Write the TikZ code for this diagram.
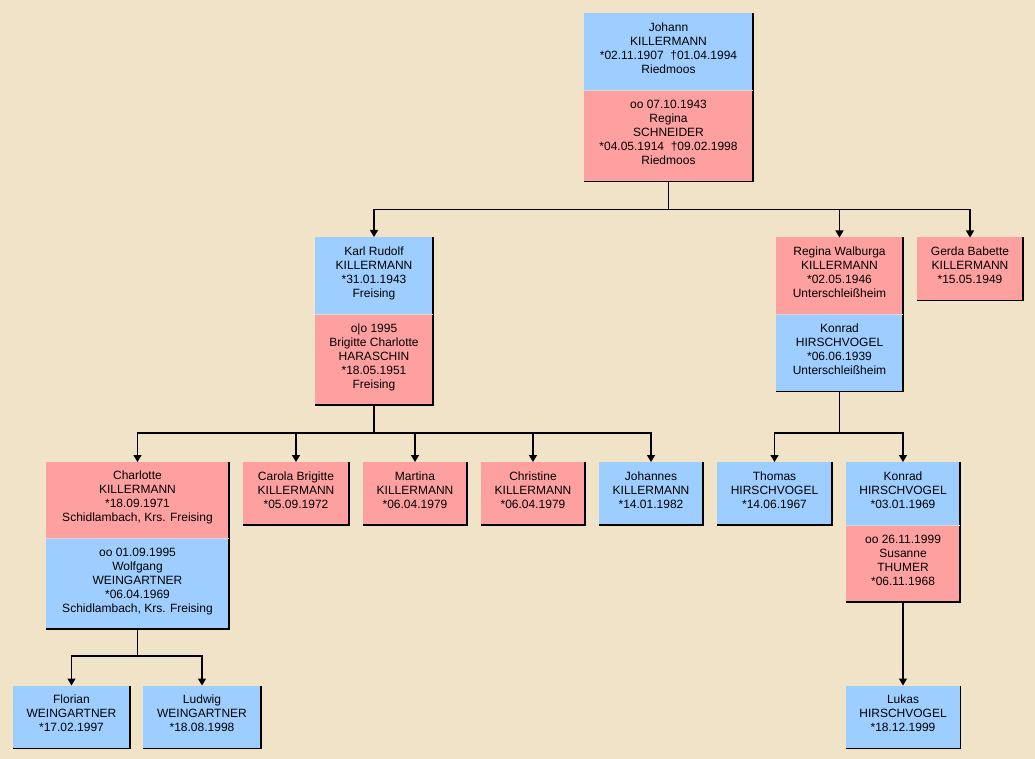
\documentclass[tikz,border=0pt]{standalone}
\usepackage{fontspec}
\setmainfont{Liberation Sans}
\usetikzlibrary{positioning,arrows.meta}
\definecolor{paper}{RGB}{240,227,199}
\definecolor{boyblue}{RGB}{158,206,255}
\definecolor{girlpink}{RGB}{255,160,160}
\begin{document}
\begin{tikzpicture}[x=1pt,y=-1pt,
    box/.style={rectangle,anchor=north,align=center,inner sep=2pt,outer sep=0pt,
      font=\fontsize{12}{14}\selectfont,execute at end node={\rule[-7pt]{0pt}{0pt}}},
    male/.style={box,fill=boyblue},
    female/.style={box,fill=girlpink},
    rim/.style={line width=1.3pt},
    seam/.style={draw=white!85!black,line width=0.8pt},
    link/.style={line width=1.3pt,-{Triangle[width=8pt,length=7pt]}}]
    \fill[paper] (0,0) rectangle (1035,759);
    \useasboundingbox (0,0) rectangle (1035,759);
    \node[male,minimum width=169pt,minimum height=77pt] (1) at (668.5,13.5) {Johann\\KILLERMANN\\*02.11.1907~~†01.04.1994\\Riedmoos};
    \node[female,minimum width=169pt,minimum height=91pt,below=0pt of 1] (2) {oo 07.10.1943\\Regina\\SCHNEIDER\\*04.05.1914~~†09.02.1998\\Riedmoos};
    \node[male,minimum width=118pt,minimum height=77pt] (3) at (374,237) {Karl Rudolf\\KILLERMANN\\*31.01.1943\\Freising};
    \node[female,minimum width=118pt,minimum height=91pt,below=0pt of 3] (4) {o\textbar o 1995\\Brigitte Charlotte\\HARASCHIN\\*18.05.1951\\Freising};
    \node[female,minimum width=127pt,minimum height=77pt] (5) at (839.5,237.5) {Regina Walburga\\KILLERMANN\\*02.05.1946\\Unterschleißheim};
    \node[male,minimum width=127pt,minimum height=77pt,below=0pt of 5] (6) {Konrad\\HIRSCHVOGEL\\*06.06.1939\\Unterschleißheim};
    \node[female,minimum width=106pt,minimum height=63pt] (7) at (970,237.5) {Gerda Babette\\KILLERMANN\\*15.05.1949};
    \node[female,minimum width=183pt,minimum height=76pt] (8) at (137.5,462) {Charlotte\\KILLERMANN\\*18.09.1971\\Schidlambach, Krs. Freising};
    \node[male,minimum width=183pt,minimum height=91pt,below=0pt of 8] (9) {oo 01.09.1995\\Wolfgang\\WEINGARTNER\\*06.04.1969\\Schidlambach, Krs. Freising};
    \node[female,minimum width=106pt,minimum height=63pt] (10) at (296,462) {Carola Brigitte\\KILLERMANN\\*05.09.1972};
    \node[female,minimum width=104pt,minimum height=63pt] (11) at (415,462) {Martina\\KILLERMANN\\*06.04.1979};
    \node[female,minimum width=104pt,minimum height=63pt] (12) at (533,462) {Christine\\KILLERMANN\\*06.04.1979};
    \node[male,minimum width=104pt,minimum height=63pt] (13) at (651,462) {Johannes\\KILLERMANN\\*14.01.1982};
    \node[male,minimum width=115pt,minimum height=63pt] (14) at (774.5,462) {Thomas\\HIRSCHVOGEL\\*14.06.1967};
    \node[male,minimum width=114pt,minimum height=63pt] (15) at (903,462) {Konrad\\HIRSCHVOGEL\\*03.01.1969};
    \node[female,minimum width=114pt,minimum height=77pt,below=0pt of 15] (16) {oo 26.11.1999\\Susanne\\THUMER\\*06.11.1968};
    \node[male,minimum width=117pt,minimum height=63pt] (17) at (71.5,685.5) {Florian\\WEINGARTNER\\*17.02.1997};
    \node[male,minimum width=118pt,minimum height=63pt] (18) at (202,685.5) {Ludwig\\WEINGARTNER\\*18.08.1998};
    \node[male,minimum width=115pt,minimum height=63pt] (19) at (903,685.5) {Lukas\\HIRSCHVOGEL\\*18.12.1999};
    \foreach \c in {3,5,7}
        \draw[link] (2.south) -- ++(0,28) -| (\c.north);
    \foreach \c in {8,10,11,12,13}
        \draw[link] (4.south) -- ++(0,28) -| (\c.north);
    \foreach \c in {14,15}
        \draw[link] (6.south) -- ++(0,41.5) -| (\c.north);
    \foreach \c in {17,18}
        \draw[link] (9.south) -- ++(0,27) -| (\c.north);
    \draw[link] (16.south) -- (19.north);
    \foreach \t/\b in {1/2,3/4,5/6,7/7,8/9,10/10,11/11,12/12,13/13,14/14,15/16,17/17,18/18,19/19}
        \draw[rim] (\t.north east) -- (\b.south east) -- (\b.south west);
    \foreach \b in {2,4,6,9,16}
        \draw[seam] (\b.north west) -- (\b.north east);
\end{tikzpicture}
\end{document}
